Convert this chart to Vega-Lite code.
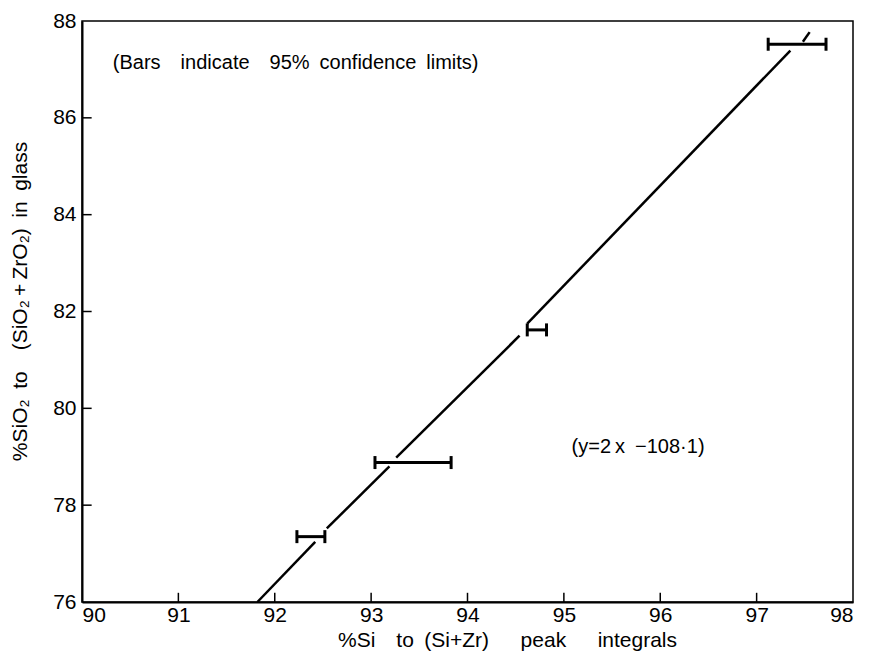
{
  "$schema": "https://vega.github.io/schema/vega-lite/v6.json",
  "width": 771,
  "height": 581,
  "autosize": "none",
  "padding": {"left": 82, "top": 21, "right": 18, "bottom": 67},
  "background": "white",
  "config": {
    "font": "Liberation Sans",
    "view": {"stroke": "black", "strokeWidth": 1.5},
    "axis": {
      "domainColor": "black", "domainWidth": 2,
      "ticks": false,
      "labelColor": "black", "labelFontSize": 21, "labelFont": "Liberation Sans",
      "titleColor": "black", "titleFontSize": 21, "titleFont": "Liberation Sans", "titleFontWeight": "normal",
      "grid": false
    }
  },
  "datasets": {
    "segs": [
      {"seg": "a", "x": 91.82, "y": 76.0},
      {"seg": "a", "x": 92.42, "y": 77.24},
      {"seg": "b", "x": 92.54, "y": 77.52},
      {"seg": "b", "x": 93.19, "y": 78.8},
      {"seg": "c", "x": 93.26, "y": 78.98},
      {"seg": "c", "x": 94.54, "y": 81.5},
      {"seg": "d", "x": 94.62, "y": 81.75},
      {"seg": "d", "x": 97.35, "y": 87.39},
      {"seg": "e", "x": 97.48, "y": 87.57},
      {"seg": "e", "x": 97.55, "y": 87.77}
    ],
    "bars": [
      {"y": 77.35, "lo": 92.23, "hi": 92.52},
      {"y": 78.88, "lo": 93.04, "hi": 93.83},
      {"y": 81.62, "lo": 94.62, "hi": 94.82},
      {"y": 87.52, "lo": 97.12, "hi": 97.72}
    ],
    "xticks": [{"v": 91}, {"v": 92}, {"v": 93}, {"v": 94}, {"v": 95}, {"v": 96}, {"v": 97}],
    "yticks": [{"v": 78}, {"v": 80}, {"v": 82}, {"v": 84}, {"v": 86}],
    "notes": [
      {"x": 90.32, "y": 87.13, "label": "(Bars\u2002\u2002indicate\u2002\u200295%\u2002confidence\u2002limits)"},
      {"x": 95.08, "y": 79.2, "label": "(y=2\u2009x\u2002−108·1)"}
    ]
  },
  "layer": [
    {
      "data": {"name": "segs"},
      "mark": {"type": "line", "color": "black", "strokeWidth": 2.5},
      "encoding": {
        "x": {"field": "x", "type": "quantitative", "scale": {"domain": [90, 98], "nice": false, "zero": false},
              "axis": {"values": [90, 91, 92, 93, 94, 95, 96, 97, 98], "format": "d", "title": "%Si\u2002\u2002to\u2002(Si+Zr)\u2002\u2002\u2002peak\u2002\u2002\u2002integrals", "titlePadding": 4, "labelPadding": 2, "titleX": 425}},
        "y": {"field": "y", "type": "quantitative", "scale": {"domain": [76, 88], "nice": false, "zero": false},
              "axis": {"values": [76, 78, 80, 82, 84, 86, 88], "format": "d", "title": "%SiO₂\u2002to\u2002\u2002(SiO₂\u2009+\u2009ZrO₂)\u2002in\u2002glass", "titlePadding": 22, "labelPadding": 6, "titleY": 280}},
        "detail": {"field": "seg"}
      }
    },
    {
      "data": {"name": "xticks"},
      "mark": {"type": "rule", "color": "black", "strokeWidth": 1.5},
      "encoding": {
        "x": {"field": "v", "type": "quantitative"},
        "y": {"datum": 76, "type": "quantitative"},
        "y2": {"datum": 76.19}
      }
    },
    {
      "data": {"name": "yticks"},
      "mark": {"type": "rule", "color": "black", "strokeWidth": 1.5},
      "encoding": {
        "x": {"datum": 90, "type": "quantitative"},
        "x2": {"datum": 90.1},
        "y": {"field": "v", "type": "quantitative"}
      }
    },
    {
      "data": {"name": "bars"},
      "mark": {"type": "rule", "color": "black", "strokeWidth": 3},
      "encoding": {
        "x": {"field": "lo", "type": "quantitative"},
        "x2": {"field": "hi"},
        "y": {"field": "y", "type": "quantitative"}
      }
    },
    {
      "data": {"name": "bars"},
      "mark": {"type": "tick", "color": "black", "opacity": 1, "orient": "vertical", "size": 13, "thickness": 3},
      "encoding": {
        "x": {"field": "lo", "type": "quantitative"},
        "y": {"field": "y", "type": "quantitative"}
      }
    },
    {
      "data": {"name": "bars"},
      "mark": {"type": "tick", "color": "black", "opacity": 1, "orient": "vertical", "size": 13, "thickness": 3},
      "encoding": {
        "x": {"field": "hi", "type": "quantitative"},
        "y": {"field": "y", "type": "quantitative"}
      }
    },
    {
      "data": {"name": "notes"},
      "mark": {"type": "text", "align": "left", "baseline": "middle", "fontSize": 20, "font": "Liberation Sans", "color": "black"},
      "encoding": {
        "x": {"field": "x", "type": "quantitative"},
        "y": {"field": "y", "type": "quantitative"},
        "text": {"field": "label"}
      }
    }
  ]
}
